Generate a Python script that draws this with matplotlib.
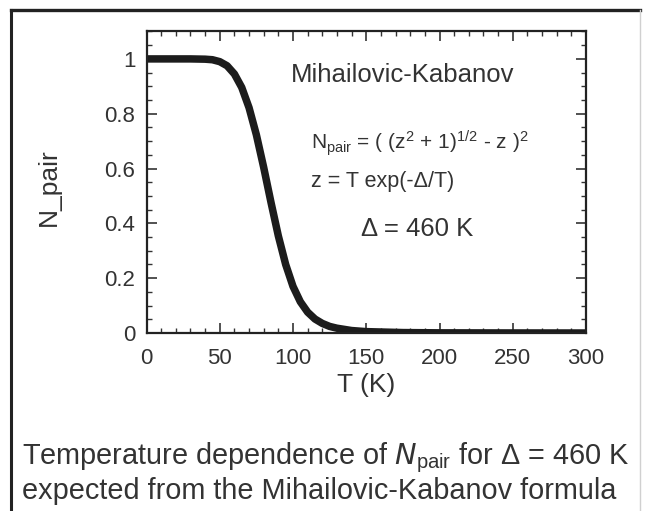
import numpy as np
import matplotlib
matplotlib.use("Agg")
import matplotlib.pyplot as plt
from matplotlib.lines import Line2D
from matplotlib.ticker import MultipleLocator

plt.rcParams['font.family'] = ['Liberation Sans', 'DejaVu Sans']
plt.rcParams['mathtext.default'] = 'regular'

# curve (T in K, N_pair)
T = [0, 10, 20, 30, 40, 45, 50, 55, 60, 65, 70, 75, 80, 85, 90, 95, 100,
     105, 110, 115, 120, 125, 130, 140, 150, 175, 200, 250, 300]
N_pair = [1.0, 1.0, 1.0, 1.0, 0.999, 0.997, 0.990, 0.975, 0.945, 0.896,
          0.822, 0.723, 0.604, 0.476, 0.354, 0.250, 0.170, 0.114, 0.076,
          0.051, 0.035, 0.024, 0.0175, 0.009, 0.005, 0.0016, 0.0006,
          0.0002, 0.0]

x_ticks = [0, 50, 100, 150, 200, 250, 300]
y_ticks = [0, 0.2, 0.4, 0.6, 0.8, 1]
y_labels = ["0", "0.2", "0.4", "0.6", "0.8", "1"]

fig = plt.figure(figsize=(6.46, 5.11), dpi=100)
ax = fig.add_axes([146.5/646, 1-333/511, 439.5/646, 301.5/511])

ax.plot(T, N_pair, color="#1c1c1c", lw=5.4, solid_capstyle="round")
ax.set_xlim(0, 300)
ax.set_ylim(0, 1.1)
ax.set_xticks(x_ticks)
ax.set_yticks(y_ticks)
ax.set_yticklabels(y_labels)
ax.xaxis.set_minor_locator(MultipleLocator(10))
ax.yaxis.set_minor_locator(MultipleLocator(0.05))
ax.tick_params(which="both", direction="in", top=True, right=True,
               colors="#333333", labelcolor="#333333", labelsize=16)
ax.tick_params(which="major", length=7, width=1.2)
ax.tick_params(which="minor", length=3.5, width=1)
ax.tick_params(axis="x", pad=11)
ax.tick_params(axis="y", pad=8)
for s in ax.spines.values():
    s.set_linewidth(1.6)
    s.set_color("#222222")

ax.set_xlabel("T (K)", fontsize=19, color="#333333", labelpad=3)
fig.text(49/646, 1-187/511, "N_pair", rotation=90, fontsize=19,
         color="#333333", ha="center", va="center")

ax.text(291/646, 1-75/511, "Mihailovic-Kabanov", transform=fig.transFigure,
        fontsize=18.5, color="#333333", va="center")
ax.text(311/646, 1-143/511,
        r"N$_{pair}$ = ( (z$^{2}$ + 1)$^{1/2}$ - z )$^{2}$",
        transform=fig.transFigure, fontsize=15, color="#333333", va="center")
ax.text(311/646, 1-182/511, "z = T exp(-\u0394/T)", transform=fig.transFigure,
        fontsize=15.5, color="#333333", va="center")
ax.text(361/646, 1-229/511, "\u0394 = 460 K", transform=fig.transFigure,
        fontsize=18.5, color="#333333", va="center")

# caption
fig.text(22/646, 1-458/511,
         "Temperature dependence of $\\mathit{N}_{pair}$ for \u0394 = 460 K",
         fontsize=20.8, color="#333333", va="center")
fig.text(22/646, 1-491/511, "expected from the Mihailovic-Kabanov formula",
         fontsize=20.8, color="#333333", va="center")

# frame around the figure
fig.add_artist(Line2D([11/646, 11/646], [0, 1-10/511], color="#222222", lw=2.2,
                      transform=fig.transFigure))
fig.add_artist(Line2D([11/646, 640/646], [1-10/511, 1-10/511], color="#222222",
                      lw=2.4, transform=fig.transFigure))
fig.add_artist(Line2D([640/646, 640/646], [0, 1-10/511], color="#d0d0d0", lw=1,
                      transform=fig.transFigure))

fig.savefig("out.png", dpi=100)
